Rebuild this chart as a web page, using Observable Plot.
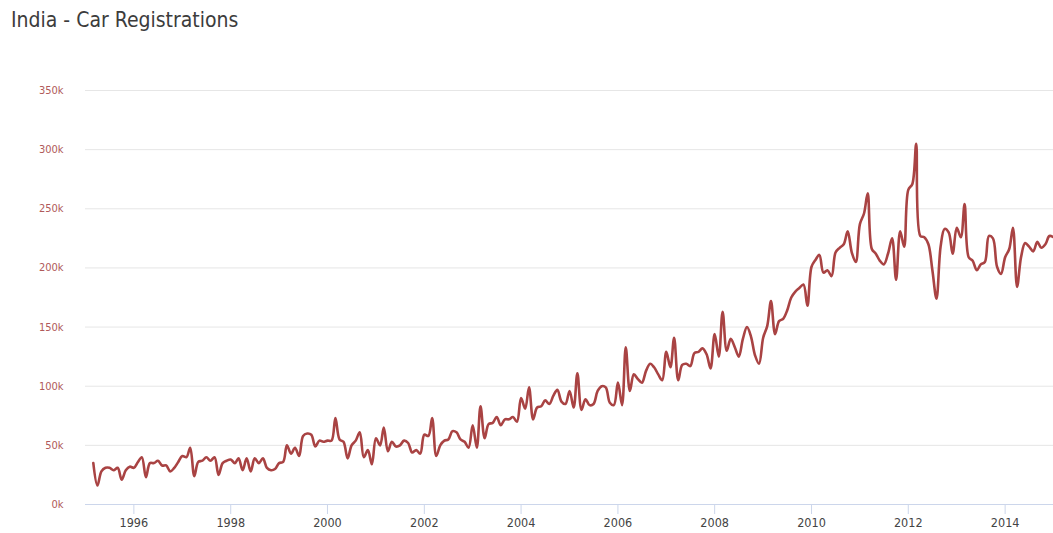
<!DOCTYPE html>
<html>
<head>
<meta charset="utf-8">
<script src="https://cdn.jsdelivr.net/npm/d3@7"></script>
<script src="https://cdn.jsdelivr.net/npm/@observablehq/plot@0.6"></script>
<style>
  html, body { margin: 0; padding: 0; background: #fff; }
  body { width: 1053px; height: 533px; overflow: hidden; position: relative;
         font-family: "DejaVu Sans Condensed", "DejaVu Sans", sans-serif; }
  #title { position: absolute; left: 11px; top: 8px; font-size: 21px; color: #3c3c3c; white-space: nowrap; }
  #chart { position: absolute; left: 0; top: 40px; }
</style>
</head>
<body>
<div id="title">India - Car Registrations</div>
<div id="chart"></div>
<script>
// Monthly car registrations (thousands), first value = March 1995, last = January 2015
const firstMonth = [1995, 2]; // year, month index (0-based)
const registrations = [
  35, 16, 28, 31, 31, 29, 31, 21, 29, 32,                 // 1995 Mar-Dec
  31, 36, 40, 23, 35, 35, 37, 33, 33, 28, 31, 36,         // 1996
  41, 40, 48, 24, 36, 37, 40, 37, 40, 25, 35, 37,         // 1997
  38, 35, 39, 29, 39, 28, 39, 35, 39, 31, 29, 30,         // 1998
  35, 36, 50, 43, 48, 41, 58, 60, 59, 49, 54, 53,         // 1999
  54, 54, 73, 55, 53, 39, 50, 54, 61, 40, 46, 34,         // 2000
  56, 50, 65, 45, 53, 49, 50, 54, 52, 44, 46, 43,         // 2001
  59, 58, 73, 41, 50, 54, 55, 62, 61, 55, 53, 48,         // 2002
  67, 48, 83, 56, 68, 69, 74, 67, 72, 72, 74, 70,         // 2003
  90, 81, 99, 72, 82, 83, 88, 85, 92, 97, 87, 85,         // 2004
  96, 82, 111, 80, 89, 84, 85, 96, 100, 99, 86, 84,       // 2005
  103, 84, 133, 96, 110, 106, 103, 113, 119, 116, 110, 105, // 2006
  129, 116, 141, 105, 118, 119, 117, 128, 129, 132, 127, 115, // 2007
  144, 125, 163, 130, 140, 133, 125, 140, 150, 142, 126, 119, // 2008
  141, 151, 172, 144, 155, 157, 164, 175, 180, 183, 186, 168, // 2009
  201, 207, 211, 196, 198, 193, 213, 217, 220, 231, 213, 205, // 2010
  237, 246, 263, 216, 212, 206, 203, 212, 225, 190, 231, 218, // 2011
  266, 271, 305, 227, 226, 220, 198, 174, 218, 233, 230, 212, // 2012
  234, 226, 254, 209, 206, 198, 203, 205, 227, 225, 201, 195, // 2013
  209, 216, 234, 184, 209, 221, 218, 214, 222, 217, 220, 227, // 2014
  226                                                       // 2015 Jan
];
const yTicks = [0, 50, 100, 150, 200, 250, 300, 350];
const xTickYears = [1996, 1998, 2000, 2002, 2004, 2006, 2008, 2010, 2012, 2014];
const xDomainYears = [1995, 2015];

const data = registrations.map((v, i) => ({
  date: new Date(Date.UTC(firstMonth[0], firstMonth[1] + i, 1)),
  value: v
}));
const xTicks = xTickYears.map(y => new Date(Date.UTC(y, 0, 1)));

const chart = Plot.plot({
  width: 1053,
  height: 493,
  marginTop: 50,
  marginBottom: 29,
  marginLeft: 85,
  marginRight: 0,
  style: { fontFamily: '"DejaVu Sans Condensed", "DejaVu Sans", sans-serif', background: "#fff" },
  x: { type: "utc", domain: xDomainYears.map(y => new Date(Date.UTC(y, 0, 1))) },
  y: { domain: [0, 350] },
  marks: [
    Plot.gridY(yTicks, { stroke: "#e6e6e6", strokeOpacity: 1 }),
    Plot.ruleY([0], { stroke: "#ccd6eb", strokeWidth: 1 }),
    Plot.axisY(yTicks, { tickSize: 0, tickPadding: 22, tickFormat: d => d + "k", fill: "#b05a5a", fontSize: 11, label: null }),
    Plot.axisX(xTicks, { tickSize: 10, stroke: "#ccd6eb", strokeOpacity: 1, tickPadding: 4, tickFormat: d3.utcFormat("%Y"), fill: "#444", fontSize: 12.5, label: null }),
    Plot.line(data, { x: "date", y: "value", stroke: "#a94343", strokeWidth: 2.6, curve: "catmull-rom" })
  ]
});
document.getElementById("chart").appendChild(chart);
</script>
</body>
</html>
